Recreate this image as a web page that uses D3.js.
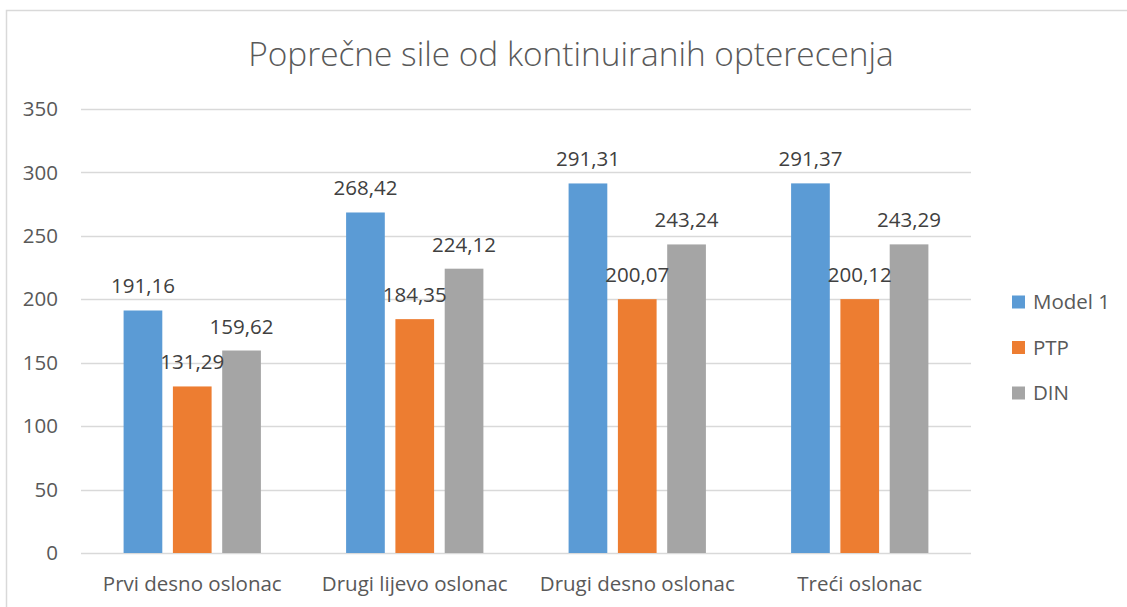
<!DOCTYPE html>
<html>
<head>
<meta charset="utf-8">
<script src="https://cdn.jsdelivr.net/npm/d3@7"></script>
<style>
  body { margin: 0; background: #fff; }
  text { font-family: "Open Sans", sans-serif; }
</style>
</head>
<body>
<div id="chart"></div>
<script>
// data
var categories = ["Prvi desno oslonac", "Drugi lijevo oslonac", "Drugi desno oslonac", "Treći oslonac"];
var seriesNames = ["Model 1", "PTP", "DIN"];
var model1 = [191.16, 268.42, 291.31, 291.37];
var ptp = [131.29, 184.35, 200.07, 200.12];
var din = [159.62, 224.12, 243.24, 243.29];
var yTicks = [0, 50, 100, 150, 200, 250, 300, 350];
var colors = ["#5B9BD5", "#ED7D31", "#A5A5A5"];

var W = 1127, H = 607;
var plotLeft = 81, plotRight = 971, plotTop = 109, plotBottom = 553;
var FS = 20.5;

var svg = d3.select("#chart").append("svg")
    .attr("width", W)
    .attr("height", H);

// chart border
svg.append("rect")
    .attr("x", 6.5).attr("y", 10.5)
    .attr("width", W + 10).attr("height", H + 10)
    .attr("fill", "white")
    .attr("stroke", "#d9d9d9")
    .attr("stroke-width", 1.5);

// title
svg.append("text")
    .attr("x", 571).attr("y", 66)
    .attr("text-anchor", "middle")
    .attr("font-size", 33.4)
    .attr("font-weight", 300)
    .attr("fill", "#595959")
    .text("Poprečne sile od kontinuiranih opterecenja");

var y = d3.scaleLinear().domain([0, 350]).range([plotBottom, plotTop]);
var x0 = d3.scaleBand().domain(categories).range([plotLeft, plotRight]).paddingInner(0).paddingOuter(0);
var x1 = d3.scaleBand().domain(seriesNames).range([0, x0.bandwidth()])
    .paddingInner(0.215).paddingOuter(0.864);

// gridlines
svg.append("g").selectAll("line")
    .data(yTicks)
    .enter().append("line")
    .attr("x1", plotLeft).attr("x2", plotRight)
    .attr("y1", function(d) { return Math.round(y(d)) + 0.5; })
    .attr("y2", function(d) { return Math.round(y(d)) + 0.5; })
    .attr("stroke", "#d9d9d9")
    .attr("stroke-width", 1.3);

// y axis labels
svg.append("g").selectAll("text")
    .data(yTicks)
    .enter().append("text")
    .attr("x", 58)
    .attr("y", function(d) { return y(d); })
    .attr("dy", "0.35em")
    .attr("text-anchor", "end")
    .attr("font-size", FS)
    .attr("fill", "#595959")
    .text(function(d) { return d; });

// bars
var allSeries = [model1, ptp, din];
var rows = [];
categories.forEach(function(c, i) {
    seriesNames.forEach(function(s, j) {
        rows.push({cat: c, name: s, value: allSeries[j][i], color: colors[j]});
    });
});

svg.append("g").selectAll("rect")
    .data(rows)
    .enter().append("rect")
    .attr("x", function(d) { return x0(d.cat) + x1(d.name); })
    .attr("y", function(d) { return y(d.value); })
    .attr("width", x1.bandwidth())
    .attr("height", function(d) { return plotBottom - y(d.value); })
    .attr("fill", function(d) { return d.color; });

// value labels
svg.append("g").selectAll("text")
    .data(rows)
    .enter().append("text")
    .attr("x", function(d) { return x0(d.cat) + x1(d.name) + x1.bandwidth() / 2; })
    .attr("y", function(d) { return y(d.value) - 17; })
    .attr("text-anchor", "middle")
    .attr("font-size", FS)
    .attr("fill", "#404040")
    .text(function(d) { return d.value.toFixed(2).replace(".", ","); });

// category labels
svg.append("g").selectAll("text")
    .data(categories)
    .enter().append("text")
    .attr("x", function(d) { return x0(d) + x0.bandwidth() / 2; })
    .attr("y", 591)
    .attr("text-anchor", "middle")
    .attr("font-size", FS)
    .attr("fill", "#595959")
    .text(function(d) { return d; });

// legend
var legend = svg.append("g").selectAll("g")
    .data(seriesNames)
    .enter().append("g")
    .attr("transform", function(d, i) { return "translate(1012," + (302 + i * 45.5) + ")"; });

legend.append("rect")
    .attr("x", 0).attr("y", -6.5)
    .attr("width", 13).attr("height", 13)
    .attr("fill", function(d, i) { return colors[i]; });

legend.append("text")
    .attr("x", 21).attr("y", 0)
    .attr("dy", "0.35em")
    .attr("font-size", FS)
    .attr("fill", "#595959")
    .text(function(d) { return d; });
</script>
</body>
</html>
